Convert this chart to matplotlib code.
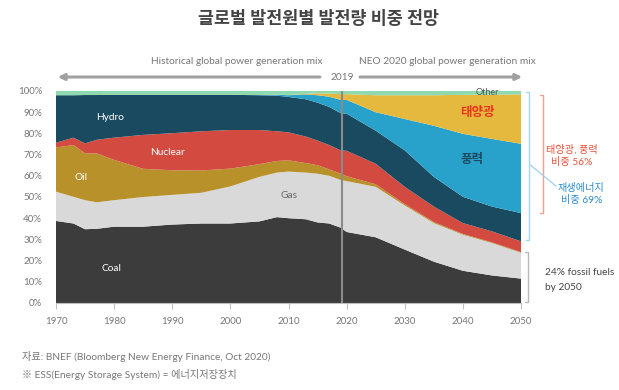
import matplotlib
matplotlib.use("Agg")
import matplotlib.pyplot as plt
import numpy as np

plt.rcParams['font.family'] = ['Lato', 'Noto Sans CJK KR', 'DejaVu Sans']

years = [1970, 1973, 1975, 1977, 1980, 1985, 1990, 1995, 2000, 2005, 2008, 2010,
         2013, 2015, 2017, 2019, 2020, 2025, 2030, 2035, 2040, 2045, 2050]
coal = [38.7, 37.5, 34.8, 35.0, 36.0, 36.0, 37.0, 37.5, 37.5, 38.5, 40.5, 40.0,
        39.5, 38.0, 37.5, 35.5, 33.5, 31.0, 25.2, 19.5, 15.2, 13.0, 11.5]
gas = [13.8, 12.6, 13.7, 12.5, 12.5, 14.0, 14.0, 14.5, 17.5, 21.0, 21.0, 22.0,
       22.0, 23.0, 22.5, 22.5, 24.0, 23.8, 20.8, 18.2, 17.0, 15.3, 12.2]
oil = [20.9, 24.4, 22.1, 23.1, 19.0, 13.3, 11.6, 10.5, 8.4, 6.0, 5.5, 5.3,
       4.5, 4.0, 3.0, 3.0, 2.3, 1.2, 0.6, 0.5, 0.4, 0.3, 0.3]
nuclear = [2.2, 3.5, 4.7, 6.4, 10.5, 16.0, 17.5, 18.5, 18.2, 16.1, 14.0, 13.2,
           12.5, 11.6, 11.5, 11.0, 12.0, 9.7, 8.2, 7.3, 5.1, 5.2, 5.1]
hydro = [22.4, 20.0, 22.8, 21.1, 20.2, 18.9, 18.1, 17.2, 16.6, 16.4, 16.8, 16.7,
         17.6, 17.9, 18.0, 17.5, 17.5, 15.6, 17.2, 14.0, 12.4, 11.7, 13.3]
wind = [0, 0, 0, 0, 0, 0, 0, 0, 0, 0.1, 0.5, 0.8,
        2.3, 3.5, 4.8, 6.3, 6.5, 8.7, 14.8, 24.1, 29.7, 31.9, 32.7]
solar = [0, 0, 0, 0, 0, 0, 0, 0, 0, 0, 0, 0.1,
         0.3, 0.9, 1.5, 2.7, 2.7, 8.0, 11.2, 14.4, 18.4, 20.9, 23.3]
other = [2.0, 2.0, 1.9, 1.9, 1.8, 1.8, 1.8, 1.8, 1.8, 1.9, 1.7, 1.9,
         1.3, 1.1, 1.2, 1.5, 1.5, 2.0, 2.0, 2.0, 1.8, 1.7, 1.6]

colors = ['#3c3c3c', '#d9d9d9', '#b8912a', '#d34b40', '#1a4a5f', '#29a2cb', '#e5b93d', '#8ed9b0']

fig = plt.figure(figsize=(6.19, 3.9), dpi=100)
ax = fig.add_axes([56/619, 87/390, 465/619, 212/390])
ax.stackplot(years, coal, gas, oil, nuclear, hydro, wind, solar, other,
             colors=colors, linewidth=0)
ax.set_xlim(1970, 2050)
ax.set_ylim(0, 100)
ax.axvline(2019.2, color='#8a8a8a', lw=1.5)

for s in ['top', 'right', 'left']:
    ax.spines[s].set_visible(False)
ax.spines['bottom'].set_color('#c0c0c0')
ax.set_xticks(range(1970, 2051, 10))
ax.set_yticks(range(0, 101, 10))
ax.set_yticklabels([f'{v}%' for v in range(0, 101, 10)])
ax.tick_params(axis='x', colors='#c0c0c0', length=4, labelcolor='#777777', labelsize=7, pad=6)
ax.tick_params(axis='y', length=0, labelcolor='#777777', labelsize=7, pad=10)

# inner labels
ax.text(1979.3, 87.7, 'Hydro', color='white', fontsize=7.3, ha='center', va='center')
ax.text(1989.1, 71.2, 'Nuclear', color='white', fontsize=7.3, ha='center', va='center')
ax.text(1974.3, 59.4, 'Oil', color='white', fontsize=7.3, ha='center', va='center')
ax.text(1979.5, 16.5, 'Coal', color='white', fontsize=7.3, ha='center', va='center')
ax.text(2010.1, 50.9, 'Gas', color='#666666', fontsize=7.3, ha='center', va='center')
ax.text(2044.2, 99.3, 'Other', color='#555555', fontsize=6.5, ha='center', va='center')
ax.text(2042.5, 90, '태양광', color='#e8341c', fontsize=9, fontweight='bold', ha='center', va='center')
ax.text(2041.6, 67.9, '풍력', color='#1a4a5f', fontsize=9, fontweight='bold', ha='center', va='center')

# top arrows and text
arrow_kw = dict(arrowstyle='-|>', color='#a0a0a0', lw=2.2, mutation_scale=9, shrinkA=0, shrinkB=0)
ax.annotate('', xy=(1970.3, 106.6), xytext=(2015.4, 106.6), arrowprops=arrow_kw, annotation_clip=False)
ax.annotate('', xy=(2050.2, 106.6), xytext=(2022.3, 106.6), arrowprops=arrow_kw, annotation_clip=False)
ax.text(2019.2, 106.6, '2019', color='#777777', fontsize=7.3, ha='center', va='center', clip_on=False)
ax.text(2015.8, 114, 'Historical global power generation mix', color='#777777', fontsize=7.3,
        ha='right', va='center', clip_on=False)
ax.text(2022.2, 114, 'NEO 2020 global power generation mix', color='#777777', fontsize=7.3,
        ha='left', va='center', clip_on=False)

def bracket(x, y0, y1, color, hook=0.5):
    ax.plot([x - hook, x, x, x - hook], [y1, y1, y0, y0], color=color, lw=1, clip_on=False,
            solid_capstyle='round')

bracket(2051.4, 29.5, 99.5, '#a8d4ee')
bracket(2053.8, 42.4, 98.0, '#f4a090')
bracket(2051.2, 0.5, 24.0, '#b8b8b8')
ax.plot([2051.6, 2056.0], [65.1, 55.2], color='#a8d4ee', lw=1, clip_on=False)

ax.text(2058.8, 72.2, '태양광, 풍력', color='#e8513a', fontsize=7.3, ha='center', va='center', clip_on=False)
ax.text(2058.8, 66.5, '비중 56%', color='#e8513a', fontsize=7.3, ha='center', va='center', clip_on=False)
ax.text(2060.4, 54.2, '재생에너지', color='#2a8ad0', fontsize=7.3, ha='center', va='center', clip_on=False)
ax.text(2060.4, 48.6, '비중 69%', color='#2a8ad0', fontsize=7.3, ha='center', va='center', clip_on=False)
ax.text(2054.2, 14.2, '24% fossil fuels', color='#444444', fontsize=7.3, ha='left', va='center', clip_on=False)
ax.text(2054.2, 7.5, 'by 2050', color='#444444', fontsize=7.3, ha='left', va='center', clip_on=False)

fig.text(318/619, 1 - 18/390, '글로벌 발전원별 발전량 비중 전망', color='#444444', fontsize=12.5,
         fontweight='bold', ha='center', va='center')
fig.text(22/619, 1 - 356/390, '자료: BNEF (Bloomberg New Energy Finance, Oct 2020)', color='#777777',
         fontsize=7.3, ha='left', va='center')
fig.text(22/619, 1 - 375/390, '※ ESS(Energy Storage System) = 에너지저장장치', color='#777777',
         fontsize=7.3, ha='left', va='center')

fig.savefig('out.png', dpi=100)
